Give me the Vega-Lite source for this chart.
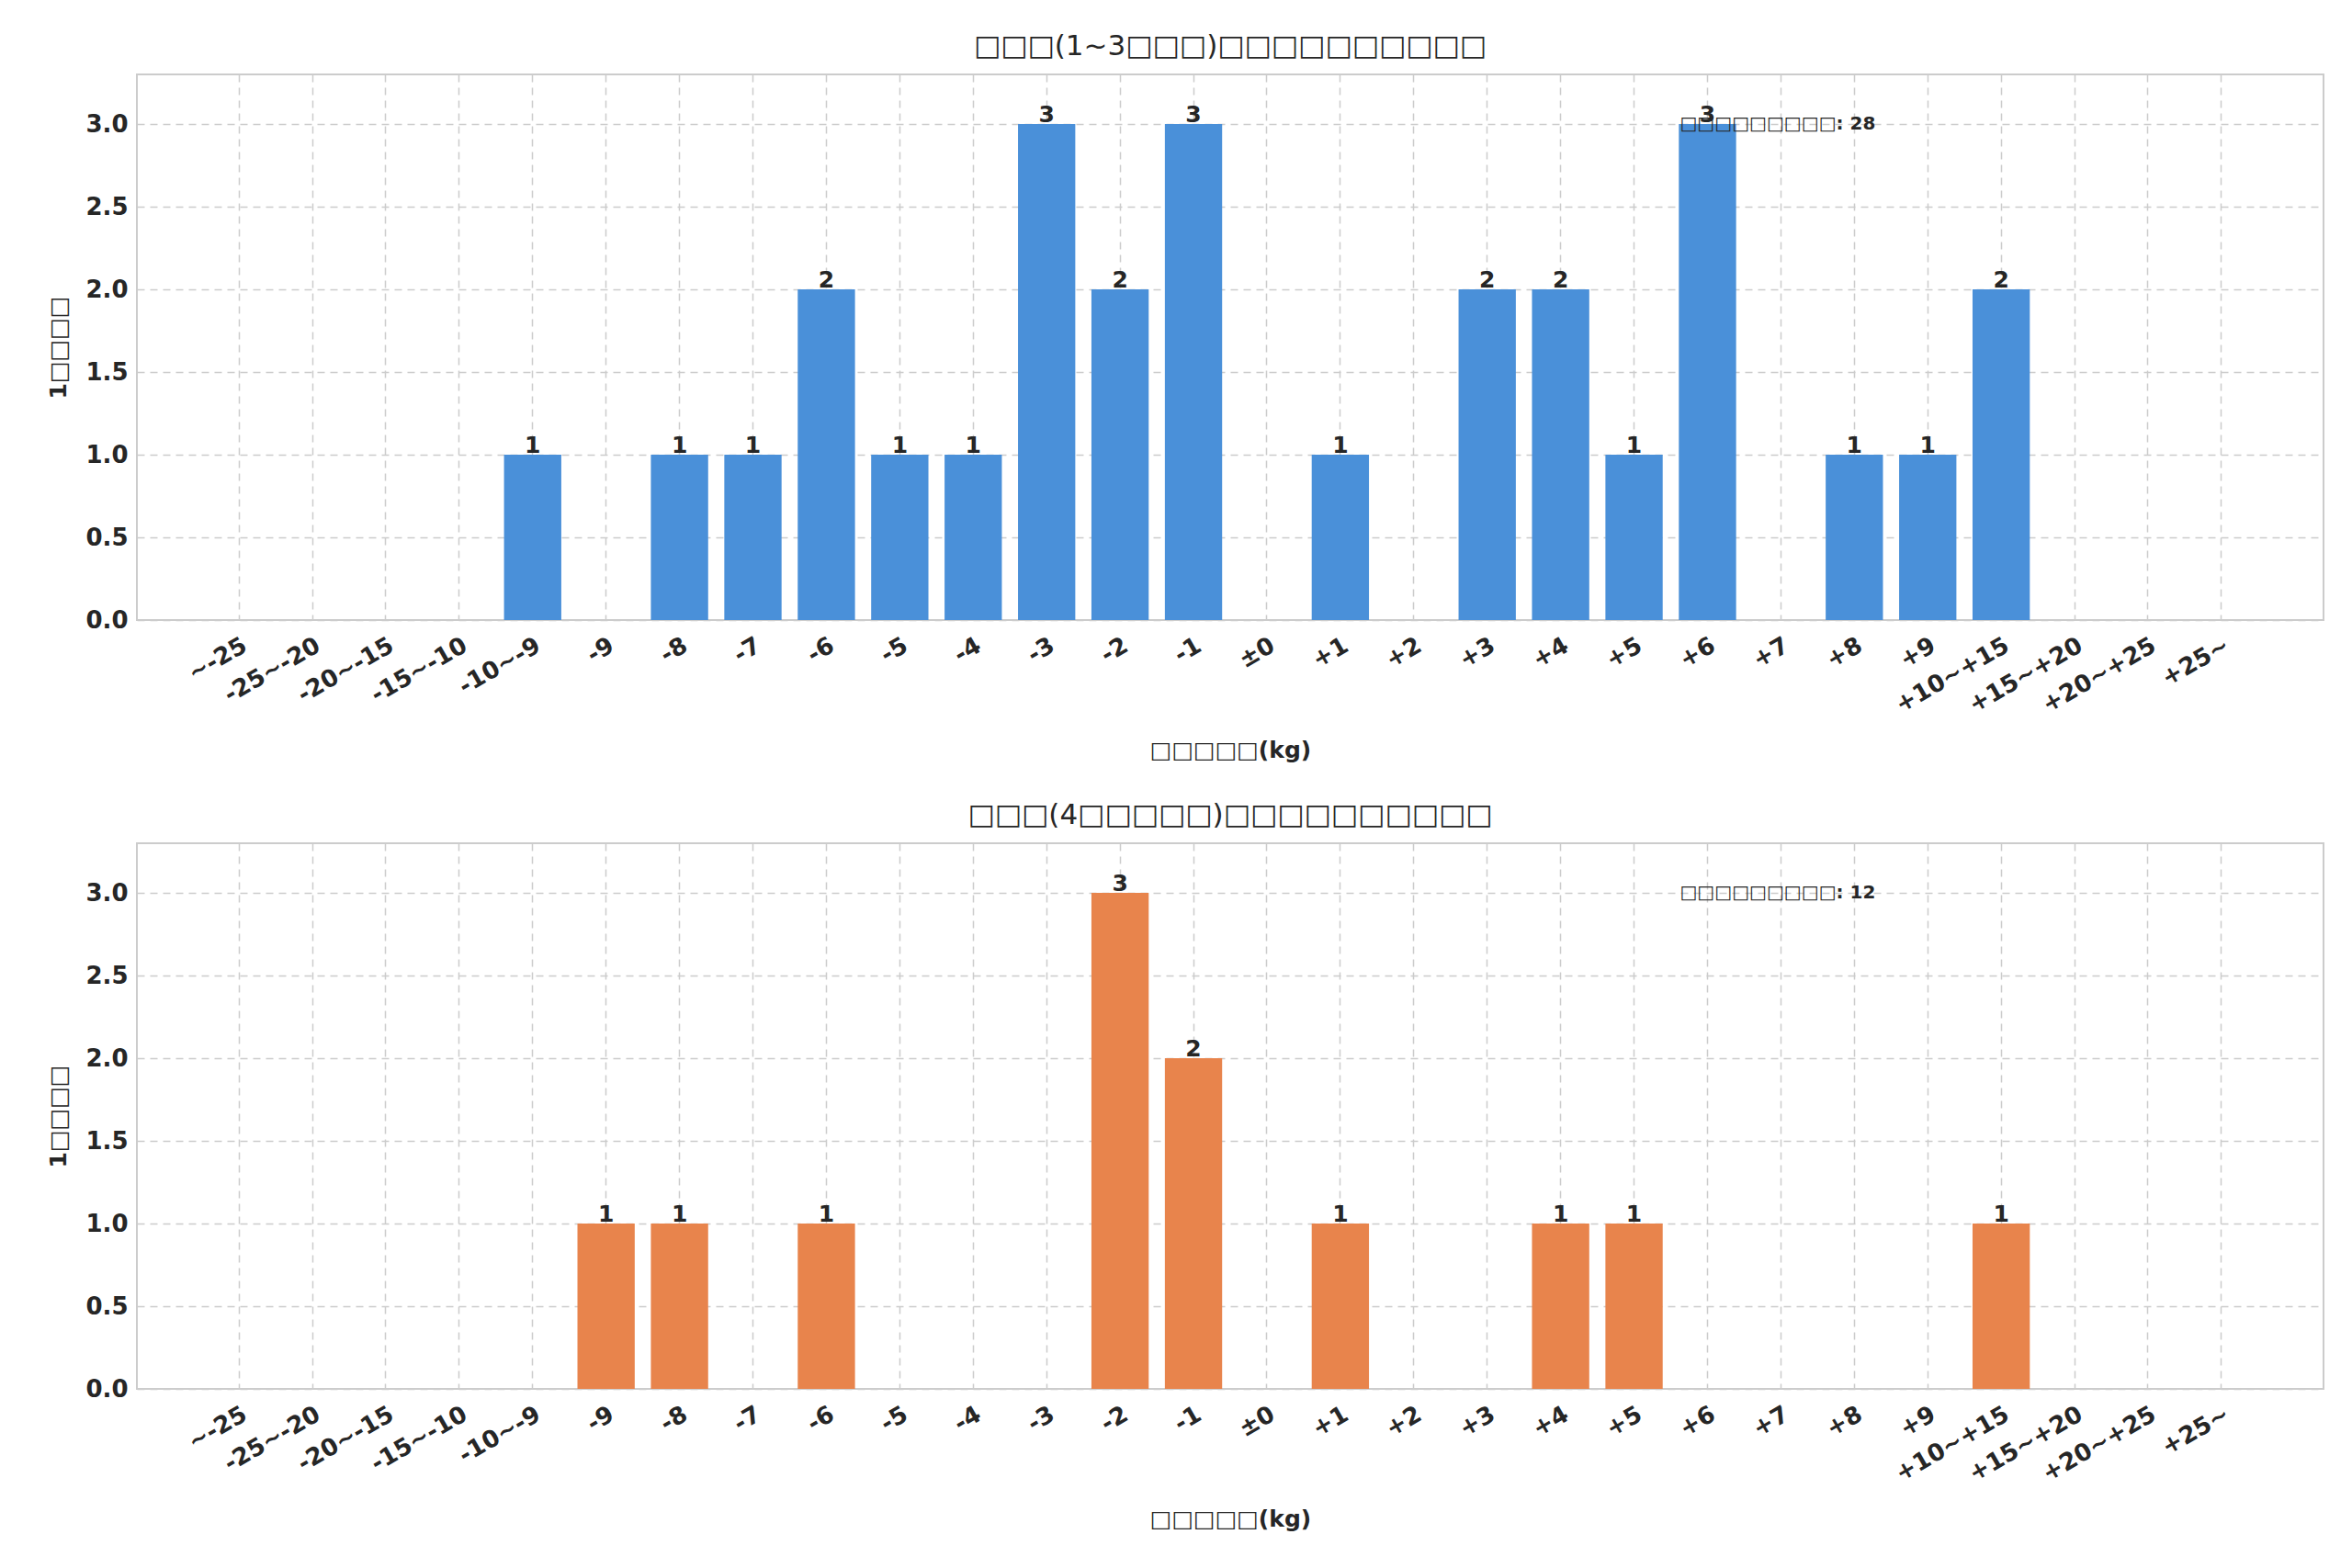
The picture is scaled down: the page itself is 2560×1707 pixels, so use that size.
{
  "$schema": "https://vega.github.io/schema/vega-lite/v6.json",
  "background": "white",
  "padding": {"left": 50, "top": 34, "right": 10, "bottom": 10},
  "config": {
    "font": "DejaVu Sans",
    "view": {"stroke": "#cccccc", "strokeWidth": 2},
    "axis": {"labelFont": "DejaVu Sans", "labelFontSize": 26, "labelFontWeight": "bold", "labelColor": "#262626", "titleFont": "DejaVu Sans", "titleFontSize": 25, "titleFontWeight": "bold", "titleColor": "#262626", "gridColor": "#cccccc", "gridDash": [8, 6], "gridWidth": 1.5, "domain": false, "ticks": false},
    "title": {"font": "DejaVu Sans", "fontSize": 31, "fontWeight": "normal", "color": "#262626", "offset": 14},
    "concat": {"spacing": 40}
  },
  "datasets": {
    "short": [
      {"bin": "-10~-9", "n": 1}, {"bin": "-8", "n": 1}, {"bin": "-7", "n": 1}, {"bin": "-6", "n": 2},
      {"bin": "-5", "n": 1}, {"bin": "-4", "n": 1}, {"bin": "-3", "n": 3}, {"bin": "-2", "n": 2},
      {"bin": "-1", "n": 3}, {"bin": "+1", "n": 1}, {"bin": "+3", "n": 2}, {"bin": "+4", "n": 2},
      {"bin": "+5", "n": 1}, {"bin": "+6", "n": 3}, {"bin": "+8", "n": 1}, {"bin": "+9", "n": 1},
      {"bin": "+10~+15", "n": 2}
    ],
    "long": [
      {"bin": "-9", "n": 1}, {"bin": "-8", "n": 1}, {"bin": "-6", "n": 1}, {"bin": "-2", "n": 3},
      {"bin": "-1", "n": 2}, {"bin": "+1", "n": 1}, {"bin": "+4", "n": 1}, {"bin": "+5", "n": 1},
      {"bin": "+10~+15", "n": 1}
    ]
  },
  "vconcat": [
    {
      "title": "□□□(1~3□□□)□□□□□□□□□□",
      "width": 2380, "height": 594,
      "data": {"name": "short"},
      "encoding": {
        "x": {"field": "bin", "type": "ordinal", "title": "□□□□□(kg)",
          "scale": {"domain": ["~-25","-25~-20","-20~-15","-15~-10","-10~-9","-9","-8","-7","-6","-5","-4","-3","-2","-1","±0","+1","+2","+3","+4","+5","+6","+7","+8","+9","+10~+15","+15~+20","+20~+25","+25~"], "paddingInner": 0.22, "paddingOuter": 1.9},
          "axis": {"labelAngle": -30, "grid": true, "labelPadding": 14, "titlePadding": 24, "labelBaseline": "top"}},
        "y": {"field": "n", "type": "quantitative", "title": "1□□□□",
          "scale": {"domain": [0, 3.3], "nice": false},
          "axis": {"values": [0, 0.5, 1, 1.5, 2, 2.5, 3], "format": ".1f", "grid": true, "labelPadding": 10, "titlePadding": 16}}
      },
      "layer": [
        {"mark": {"type": "bar", "color": "#4a90d9"}},
        {"mark": {"type": "text", "baseline": "bottom", "dy": 3, "fontSize": 25, "fontWeight": "bold", "color": "#262626"}, "encoding": {"text": {"field": "n"}}},
        {"data": {"values": [{"bin": "+6", "n": 3, "label": "□□□□□□□□□: 28"}]},
          "mark": {"type": "text", "align": "left", "baseline": "middle", "dx": -30, "fontSize": 20, "fontWeight": "bold", "color": "#262626"},
          "encoding": {"text": {"field": "label"}}}
      ]
    },
    {
      "title": "□□□(4□□□□□)□□□□□□□□□□",
      "width": 2380, "height": 594,
      "data": {"name": "long"},
      "encoding": {
        "x": {"field": "bin", "type": "ordinal", "title": "□□□□□(kg)",
          "scale": {"domain": ["~-25","-25~-20","-20~-15","-15~-10","-10~-9","-9","-8","-7","-6","-5","-4","-3","-2","-1","±0","+1","+2","+3","+4","+5","+6","+7","+8","+9","+10~+15","+15~+20","+20~+25","+25~"], "paddingInner": 0.22, "paddingOuter": 1.9},
          "axis": {"labelAngle": -30, "grid": true, "labelPadding": 14, "titlePadding": 24, "labelBaseline": "top"}},
        "y": {"field": "n", "type": "quantitative", "title": "1□□□□",
          "scale": {"domain": [0, 3.3], "nice": false},
          "axis": {"values": [0, 0.5, 1, 1.5, 2, 2.5, 3], "format": ".1f", "grid": true, "labelPadding": 10, "titlePadding": 16}}
      },
      "layer": [
        {"mark": {"type": "bar", "color": "#e8844c"}},
        {"mark": {"type": "text", "baseline": "bottom", "dy": 3, "fontSize": 25, "fontWeight": "bold", "color": "#262626"}, "encoding": {"text": {"field": "n"}}},
        {"data": {"values": [{"bin": "+6", "n": 3, "label": "□□□□□□□□□: 12"}]},
          "mark": {"type": "text", "align": "left", "baseline": "middle", "dx": -30, "fontSize": 20, "fontWeight": "bold", "color": "#262626"},
          "encoding": {"text": {"field": "label"}}}
      ]
    }
  ]
}
